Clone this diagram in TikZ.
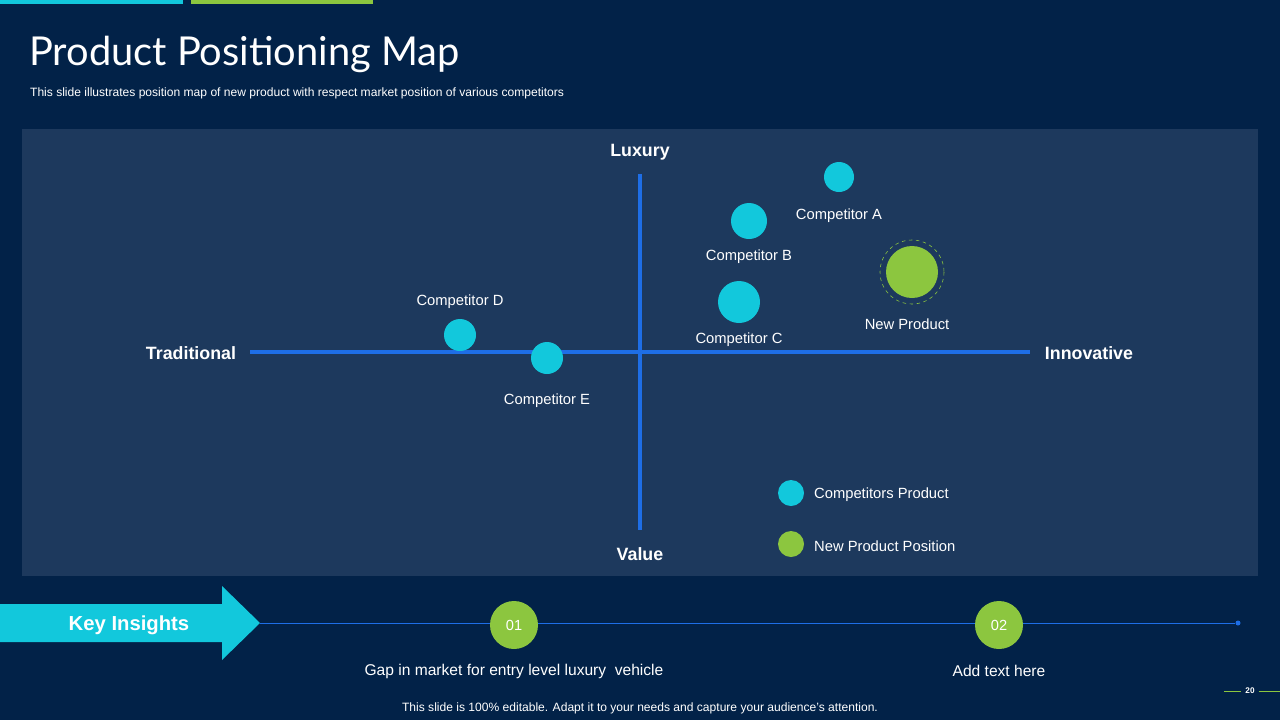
\documentclass[tikz,border=0pt]{standalone}
\usepackage{fontspec}
\setmainfont{Liberation Sans}
\newfontfamily\titlefont{Lato}
\definecolor{bg}{RGB}{2,34,72}
\definecolor{panel}{RGB}{29,57,93}
\definecolor{axis}{RGB}{30,110,230}
\definecolor{cy}{RGB}{18,200,220}
\definecolor{gr}{RGB}{140,198,63}
\begin{document}
\begin{tikzpicture}[x=0.03cm,y=-0.03cm,
  lab/.style={text=white,font=\fontsize{12.6}{14}\selectfont},
  axl/.style={text=white,font=\fontsize{15.2}{17}\selectfont\bfseries},
  cdot/.style={circle,fill=cy,inner sep=0pt},
  gdot/.style={circle,fill=gr,inner sep=0pt}]
\fill[bg] (0,0) rectangle (1280,720);
\useasboundingbox (0,0) rectangle (1280,720);
\fill[cy] (0,0) rectangle (183,4);
\fill[gr] (191,0) rectangle (373,4);
\node[anchor=west,text=white,font=\titlefont\fontsize{34}{38}\selectfont] (title) at (25,54) {Product Positioning Map};
\node[anchor=west,text=white,font=\fontsize{10.3}{12}\selectfont] (sub) at (26,93) {This slide illustrates position map of new product with respect market position of various competitors};
\fill[panel] (22,129) rectangle (1258,576);
\coordinate (vt) at (640,174); \coordinate (vb) at (640,530);
\coordinate (hl) at (250,352); \coordinate (hr) at (1030,352);
\draw[axis,line width=3pt] (vt) -- (vb);
\draw[axis,line width=3pt] (hl) -- (hr);
\node[axl] (lux) at (640,152) {Luxury};
\node[axl] (val) at (640,554) {Value};
\node[axl] (trad) at (191,353) {Traditional};
\node[axl] (inn) at (1089,353) {Innovative};
\node[cdot,minimum size=30*0.03cm] (A) at (839,177) {};
\node[cdot,minimum size=36*0.03cm] (B) at (749,221) {};
\node[cdot,minimum size=42*0.03cm] (C) at (739,302) {};
\node[cdot,minimum size=32*0.03cm] (D) at (460,335) {};
\node[cdot,minimum size=32*0.03cm] (E) at (547,358) {};
\node[gdot,minimum size=52*0.03cm] (N) at (912,272) {};
\draw[gr,dashed,line width=0.5pt] (N.center) circle[radius=32];
\node[lab] (la) at (839,216) {Competitor A};
\node[lab] (lb) at (749,257) {Competitor B};
\node[lab] (lc) at (739,340) {Competitor C};
\node[lab] (ld) at (460,302) {Competitor D};
\node[lab] (le) at (547,401) {Competitor E};
\node[lab] (ln) at (907,324) {New Product};
\node[cdot,minimum size=26*0.03cm] (lg1) at (791,493) {};
\node[gdot,minimum size=26*0.03cm] (lg2) at (791,544) {};
\node[lab,anchor=west] (lt1) at (810,495) {Competitors Product};
\node[lab,anchor=west] (lt2) at (810,546) {New Product Position};
\fill[cy] (0,604) -- (222,604) -- (222,586) -- (260,623) -- (222,660) -- (222,642) -- (0,642) -- cycle;
\node[text=white,font=\fontsize{17.3}{19}\selectfont\bfseries] (ki) at (129,625) {Key Insights};
\coordinate (ls) at (260,623);
\node[circle,fill=axis,inner sep=0pt,minimum size=5*0.03cm] (le2) at (1238,623) {};
\draw[axis,line width=0.6pt] (ls) -- (le2);
\node[gdot,minimum size=48*0.03cm,text=white,font=\fontsize{12.5}{14}\selectfont] (c1) at (514,625) {01};
\node[gdot,minimum size=48*0.03cm,text=white,font=\fontsize{12.5}{14}\selectfont] (c2) at (999,625) {02};
\node[text=white,font=\fontsize{13.3}{15}\selectfont] (t1) at (514,671) {Gap in market for entry level luxury\ \ vehicle};
\node[text=white,font=\fontsize{13.3}{15}\selectfont] (t2) at (999,671) {Add text here};
\node[text=white,font=\fontsize{10.3}{12}\selectfont] (foot) at (640,708) {This slide is 100\% editable. Adapt it to your needs and capture your audience's attention.};
\node[text=white,font=\fontsize{7}{8}\selectfont\bfseries] (pg) at (1250,691) {20};
\draw[gr,line width=0.5pt] (1224,691) -- (pg.west);
\draw[gr,line width=0.5pt] (pg.east) -- (1280,691);
\end{tikzpicture}
\end{document}
